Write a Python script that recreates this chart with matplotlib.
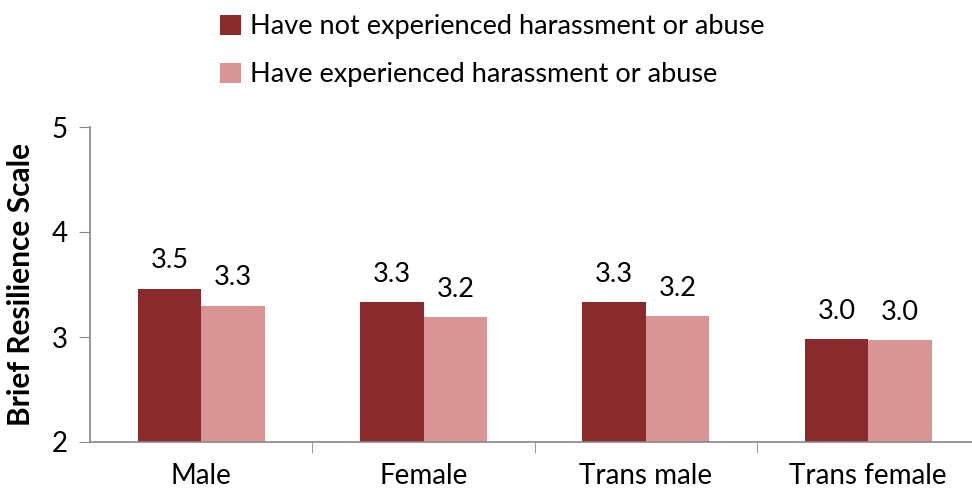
import matplotlib
matplotlib.use("Agg")
import matplotlib.pyplot as plt
import numpy as np

categories = ["Male", "Female", "Trans male", "Trans female"]
not_experienced = [3.46, 3.33, 3.33, 2.98]
experienced = [3.30, 3.19, 3.20, 2.97]
series_labels = ["Have not experienced harassment or abuse",
                 "Have experienced harassment or abuse"]
yticks = [2, 3, 4, 5]

plt.rcParams['font.family'] = ['Lato', 'DejaVu Sans']

W, H = 972, 492
fig = plt.figure(figsize=(W / 100, H / 100), dpi=100)
ax = fig.add_axes([90 / W, 1 - 442 / H, (W - 90) / W, (442 - 127) / H])

dark = "#8A2A2D"
light = "#D99594"
x = np.arange(len(categories))
bw = 0.286
b1 = ax.bar(x - bw / 2, not_experienced, bw, color=dark, label=series_labels[0], zorder=2)
b2 = ax.bar(x + bw / 2, experienced, bw, color=light, label=series_labels[1], zorder=2)

for bars in (b1, b2):
    for r in bars:
        h = r.get_height()
        ax.annotate(f"{h:.1f}", (r.get_x() + r.get_width() / 2, h),
                    xytext=(0, 11), textcoords="offset points",
                    ha="center", va="bottom", fontsize=19.5)

ax.set_ylim(2, 5)
ax.set_xlim(-0.5, 3.467)
ax.set_yticks(yticks)
ax.set_yticklabels([str(t) for t in yticks], fontsize=20)
ax.set_xticks(x)
ax.set_xticklabels(categories, fontsize=20)
ax.set_xticks(np.arange(0.5, 3.5, 1), minor=True)
ax.tick_params(axis='x', which='major', length=0, pad=15)
ax.tick_params(axis='x', which='minor', length=8, color="#888888", direction='out')
ax.tick_params(axis='y', length=8, color="#888888", direction='out', pad=8)

for s in ["top", "right"]:
    ax.spines[s].set_visible(False)
for s in ["left", "bottom"]:
    ax.spines[s].set_color("#888888")
    ax.spines[s].set_linewidth(1.2)

ax.set_ylabel("Brief Resilience Scale", fontsize=21.5, fontweight="bold", labelpad=12)

fig.legend(handles=[b1, b2], labels=series_labels, loc="upper left",
           bbox_to_anchor=(196 / W, 1 + 10 / H), frameon=False, fontsize=19.5,
           handlelength=0.75, handleheight=0.75, handletextpad=0.35,
           labelspacing=0.85)

fig.savefig("out.png", dpi=100)
